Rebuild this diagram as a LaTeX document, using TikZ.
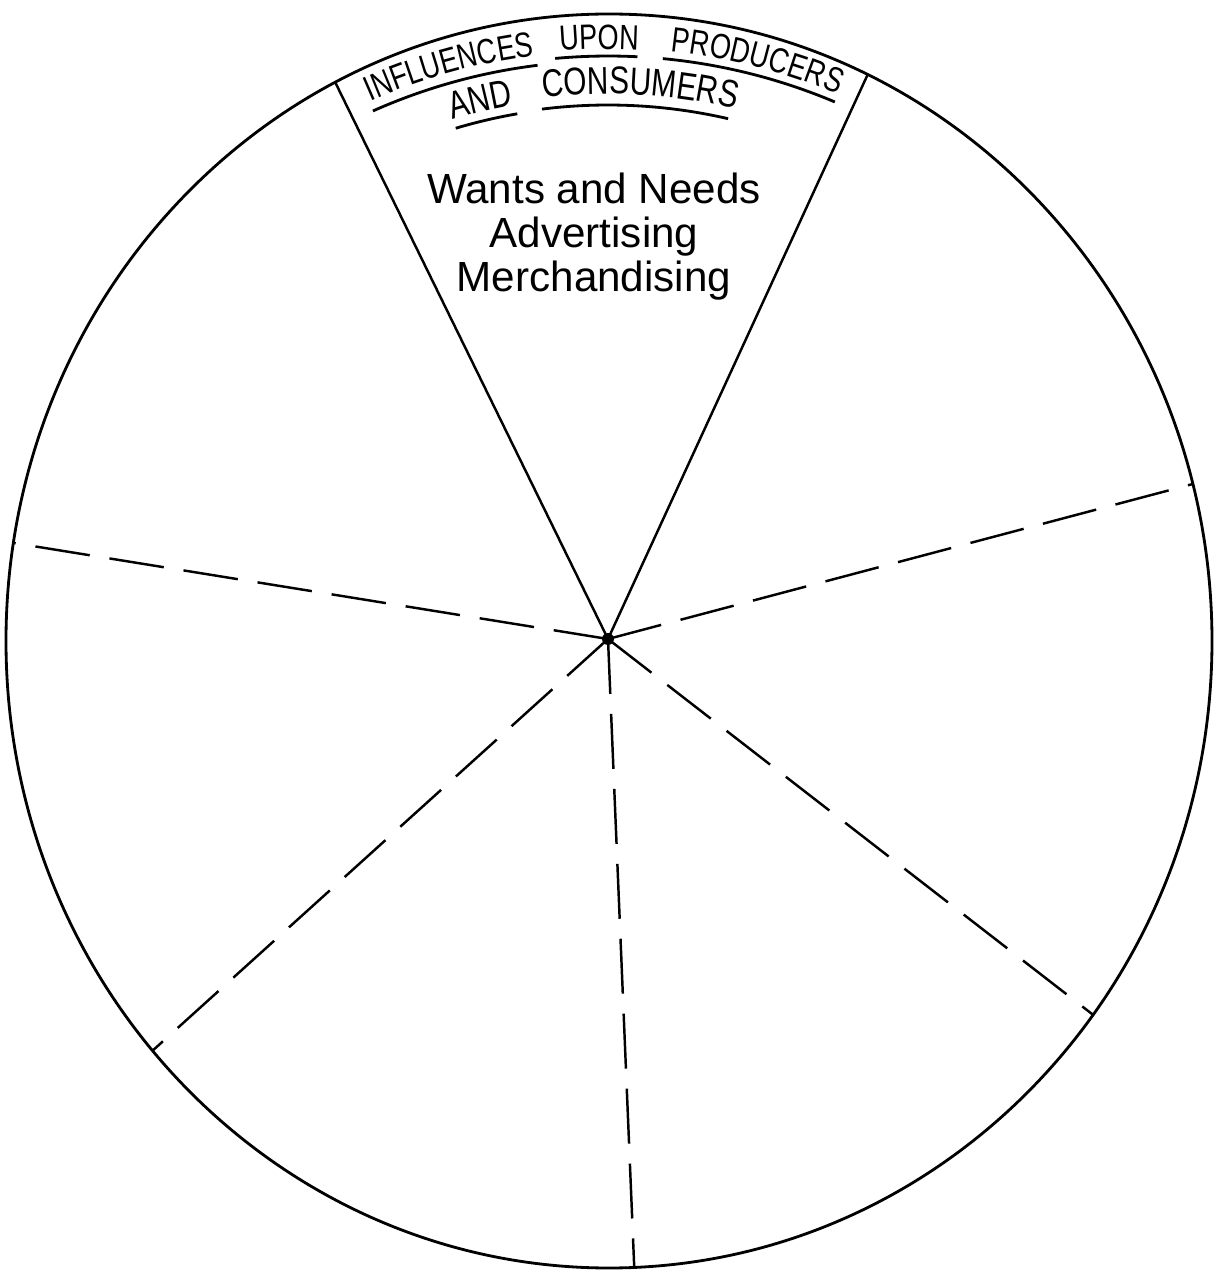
\documentclass[tikz,border=0pt]{standalone}
\usepackage{fontspec}
\setmainfont{Liberation Sans}
\newfontfamily\capsfont[FakeStretch=0.77]{Liberation Sans}
\usetikzlibrary{calc,decorations.text}

\begin{document}
\begin{tikzpicture}[
    rim/.style={line width=0.8pt},
    wall/.style={line width=0.7pt},
    split/.style={line width=0.7pt,dash pattern=on 5.5mm off 2mm},
    uline/.style={line width=0.8pt},
    word/.style={decorate,decoration={text along path,text align=center,
      text={|\capsfont\fontsize{10pt}{12pt}\selectfont|#1}}},
    lowword/.style={decorate,decoration={text along path,text align=center,
      text={|\capsfont\fontsize{11pt}{13pt}\selectfont|#1}}}
  ]
  \useasboundingbox (0,0) rectangle (12.16,12.72);
  \coordinate (ctr) at (6.09,6.31);
  \coordinate (hub) at (6.08,6.33);
  \draw[rim] (ctr) ellipse [x radius=6.03,y radius=6.27];

  % sector borders
  \foreach \name/\ang in {wl/117,wr/64.6,w/171,e/14.5,sw/220.8,se/323.4,s/272.4}
    \coordinate (\name) at ($(ctr)+(\ang:6.03 and 6.27)$);
  \draw[wall] (wl) -- (hub) -- (wr);
  \foreach \name in {w,e,sw,se,s}
    \draw[split] (hub) -- (\name);
  \fill (hub) circle (0.06);

  % curved heading
  \path[word=INFLUENCES] ($(hub)+(120.5:5.88)$) arc[start angle=120.5,end angle=90.5,radius=5.88];
  \path[word=UPON] ($(hub)+(100.85:5.90)$) arc[start angle=100.85,end angle=80.85,radius=5.90];
  \path[word=PRODUCERS] ($(hub)+(90.5:5.91)$) arc[start angle=90.5,end angle=60.5,radius=5.91];
  \path[lowword=AND] ($(hub)+(113.35:5.42)$) arc[start angle=113.35,end angle=93.35,radius=5.42];
  \path[lowword=CONSUMERS] ($(hub)+(101.65:5.45)$) arc[start angle=101.65,end angle=71.65,radius=5.45];
  \draw[uline] ($(hub)+(114:5.78)$) arc[start angle=114,end angle=97,radius=5.78];
  \draw[uline] ($(hub)+(95.2:5.83)$) arc[start angle=95.2,end angle=87.1,radius=5.83];
  \draw[uline] ($(hub)+(84.6:5.83)$) arc[start angle=84.6,end angle=67.1,radius=5.83];
  \draw[uline] ($(hub)+(106.6:5.33)$) arc[start angle=106.6,end angle=99.8,radius=5.33];
  \draw[uline] ($(hub)+(97.1:5.34)$) arc[start angle=97.1,end angle=77,radius=5.34];

  \node[font=\fontsize{12pt}{12.5pt}\selectfont,align=center,anchor=north,inner sep=0pt]
    (influences) at (5.94,11.00) {Wants and Needs\\Advertising\\Merchandising};
\end{tikzpicture}
\end{document}
